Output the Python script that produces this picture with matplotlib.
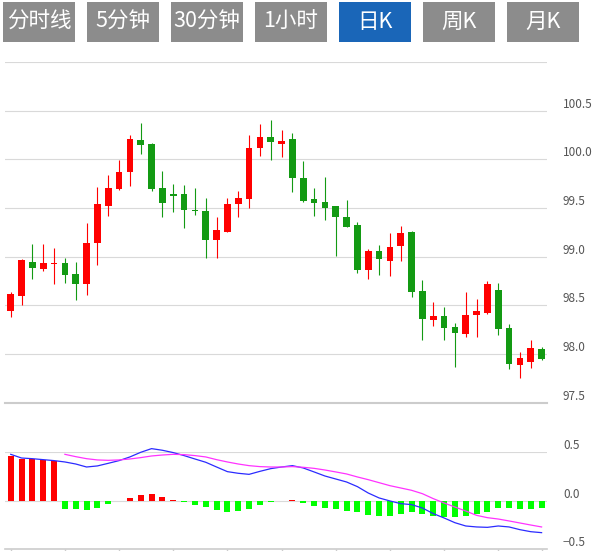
import numpy as np
import matplotlib
matplotlib.use('Agg')
import matplotlib.pyplot as plt
from matplotlib.patches import Rectangle

plt.rcParams['font.family'] = ['Noto Sans CJK SC', 'DejaVu Sans']

# tabs
tabs = ['分时线', '5分钟', '30分钟', '1小时', '日K', '周K', '月K']
active_tab = '日K'

# daily candles
opens = [98.44, 98.60, 98.95, 98.87, 98.92, 98.93, 98.82, 98.72, 99.14, 99.52,
         99.70, 99.87, 100.20, 100.16, 99.71, 99.64, 99.64, 99.48, 99.47, 99.17,
         99.25, 99.54, 99.59, 100.12, 100.23, 100.16, 100.21, 99.81, 99.59, 99.56,
         99.52, 99.41, 99.33, 98.86, 99.06, 98.96, 99.11, 99.25, 98.65, 98.35,
         98.39, 98.28, 98.21, 98.40, 98.42, 98.66, 98.27, 97.89, 97.92, 98.05]
closes = [98.62, 98.97, 98.88, 98.93, 98.93, 98.81, 98.72, 99.14, 99.54, 99.71,
          99.87, 100.21, 100.15, 99.70, 99.55, 99.62, 99.48, 99.47, 99.17, 99.27,
          99.54, 99.60, 100.12, 100.23, 100.18, 100.19, 99.81, 99.57, 99.55, 99.50,
          99.41, 99.31, 98.86, 99.06, 98.98, 99.10, 99.24, 98.64, 98.36, 98.39,
          98.27, 98.22, 98.40, 98.44, 98.72, 98.26, 97.90, 97.96, 98.06, 97.95]
highs = [98.64, 98.98, 99.13, 99.13, 99.09, 98.99, 98.95, 99.35, 99.72, 99.84,
         99.99, 100.25, 100.37, 100.17, 99.88, 99.75, 99.74, 99.71, 99.60, 99.41,
         99.60, 99.67, 100.25, 100.36, 100.40, 100.30, 100.27, 99.98, 99.71, 99.82,
         99.52, 99.58, 99.36, 99.08, 99.12, 99.24, 99.32, 99.26, 98.76, 98.53,
         98.48, 98.32, 98.64, 98.57, 98.75, 98.73, 98.31, 98.02, 98.14, 98.07]
lows = [98.38, 98.50, 98.77, 98.85, 98.72, 98.73, 98.55, 98.61, 98.91, 99.42,
        99.69, 99.73, 100.06, 99.67, 99.41, 99.46, 99.29, 99.43, 98.99, 98.99,
        99.25, 99.41, 99.50, 100.03, 99.99, 100.02, 99.66, 99.56, 99.42, 99.38,
        99.01, 99.31, 98.83, 98.77, 98.81, 98.80, 98.96, 98.59, 98.14, 98.29,
        98.14, 97.87, 98.18, 98.17, 98.41, 98.20, 97.85, 97.75, 97.86, 97.94]

# MACD
hist = [0.462, 0.428, 0.428, 0.421, 0.410, -0.090, -0.090, -0.100, -0.076, -0.034,
        0.0, 0.024, 0.055, 0.066, 0.034, 0.008, -0.014, -0.048, -0.069, -0.100,
        -0.121, -0.110, -0.090, -0.048, -0.014, 0.0, 0.008, -0.024, -0.055, -0.076,
        -0.090, -0.107, -0.117, -0.152, -0.159, -0.159, -0.138, -0.117, -0.138, -0.159,
        -0.169, -0.169, -0.159, -0.138, -0.117, -0.076, -0.076, -0.090, -0.090, -0.076]
dif = [0.479, 0.441, 0.434, 0.424, 0.414, 0.400, 0.379, 0.348, 0.359, 0.386,
       0.414, 0.452, 0.500, 0.538, 0.521, 0.497, 0.466, 0.431, 0.397, 0.348,
       0.300, 0.283, 0.272, 0.303, 0.331, 0.348, 0.362, 0.338, 0.297, 0.255,
       0.224, 0.193, 0.145, 0.079, 0.028, -0.003, -0.031, -0.041, -0.076, -0.134,
       -0.179, -0.228, -0.262, -0.272, -0.276, -0.262, -0.272, -0.300, -0.321, -0.331]
dea = [np.nan] * 5 + [
       0.479, 0.455, 0.434, 0.421, 0.417, 0.421, 0.431, 0.445, 0.462, 0.472,
       0.479, 0.476, 0.466, 0.452, 0.424, 0.400, 0.379, 0.362, 0.352, 0.348,
       0.348, 0.352, 0.345, 0.334, 0.317, 0.297, 0.276, 0.245, 0.217, 0.186,
       0.155, 0.131, 0.107, 0.072, 0.021, -0.024, -0.066, -0.107, -0.152, -0.176,
       -0.190, -0.210, -0.231, -0.252, -0.272]

price_ticks = [97.5, 98.0, 98.5, 99.0, 99.5, 100.0, 100.5]
macd_ticks = [-0.5, 0.0, 0.5]

W, H = 599, 551
UP, DOWN = '#ff0000', '#139a13'
GRID = '#d9d9d9'

fig = plt.figure(figsize=(W / 100, H / 100), dpi=100)


def px_rect(x0, y0, x1, y1):
    # pixel box (from top-left) -> figure fraction [l, b, w, h]
    return [x0 / W, 1 - y1 / H, (x1 - x0) / W, (y1 - y0) / H]


# tab buttons
for i, t in enumerate(tabs):
    l, b, w, h = px_rect(2.7 + 84 * i, 2, 75 + 84 * i, 42)
    color = '#1a66b8' if t == active_tab else '#8c8c8c'
    fig.add_artist(Rectangle((l, b), w, h, transform=fig.transFigure,
                             facecolor=color, edgecolor='none'))
    fig.text(l + w / 2, b + h / 2, t, color='white', fontsize=15.5,
             ha='center', va='center')

x = np.arange(len(opens))

# price panel
ax = fig.add_axes(px_rect(5.3, 62, 547, 402.7))
ax.set_xlim(-0.5, len(opens) - 0.5)
ax.set_ylim(97.5, 101.0)
for yv in np.arange(98.0, 101.01, 0.5):
    ax.axhline(yv, color=GRID, lw=0.8, zorder=0)

colors = [UP if c >= o else DOWN for o, c in zip(opens, closes)]
ax.vlines(x, lows, highs, colors=colors, lw=0.8, zorder=2)
bottoms = np.minimum(opens, closes)
heights = np.maximum(np.abs(np.array(closes) - np.array(opens)), 0.012)
ax.bar(x, heights, bottom=bottoms, width=0.62, color=colors, lw=0, zorder=3)

for s in ['top', 'left', 'right']:
    ax.spines[s].set_visible(False)
ax.spines['bottom'].set_color('#cccccc')
ax.spines['bottom'].set_linewidth(1.5)
ax.set_xticks([])
ax.yaxis.tick_right()
ax.set_yticks(price_ticks)
ax.set_yticklabels([f'{v:.1f}' for v in price_ticks])
ax.tick_params(axis='y', length=0, pad=11.5, labelsize=8.5, labelcolor='#555555')
for lab in ax.get_yticklabels():
    lab.set_verticalalignment('bottom')

# MACD panel
ax2 = fig.add_axes(px_rect(5.3, 452.3, 547, 549))
ax2.set_xlim(-0.5, len(opens) - 0.5)
ax2.set_ylim(-0.5, 0.5)
for yv in [0.0, 0.5]:
    ax2.axhline(yv, color=GRID, lw=0.8, zorder=0)
hcolors = [UP if v >= 0 else '#00ff00' for v in hist]
ax2.bar(x, hist, width=0.55, color=hcolors, lw=0, zorder=2)
ax2.plot(x, dif, color='#2b2bff', lw=0.9, zorder=3, clip_on=False)
ax2.plot(x, dea, color='#ff33ff', lw=0.9, zorder=3, clip_on=False)

for s in ['top', 'left', 'right']:
    ax2.spines[s].set_visible(False)
ax2.spines['bottom'].set_color('#cccccc')
ax2.spines['bottom'].set_linewidth(1.2)
ax2.set_xticks(list(range(0, len(opens), 5)) + [len(opens) - 1])
ax2.set_xticklabels([])
ax2.tick_params(axis='x', length=2, color='#cccccc', width=1)
ax2.yaxis.tick_right()
ax2.set_yticks(macd_ticks)
ax2.set_yticklabels(['\u22120.5', '0.0', '0.5'])
ax2.tick_params(axis='y', length=0, pad=11.5, labelsize=8.5, labelcolor='#555555')
for lab in ax2.get_yticklabels():
    lab.set_verticalalignment('bottom')

fig.savefig('out.png', dpi=100)
